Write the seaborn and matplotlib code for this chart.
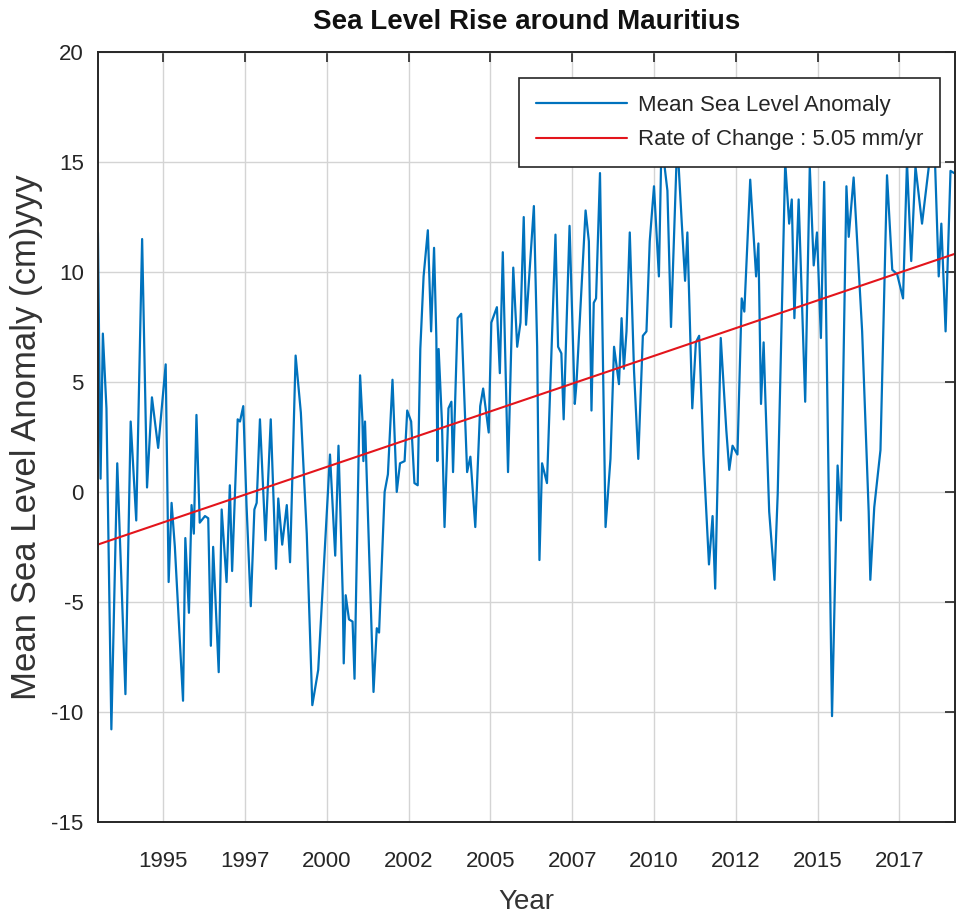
import numpy as np
import pandas as pd
import matplotlib
matplotlib.use('Agg')
import matplotlib.pyplot as plt
import seaborn as sns

# monthly-ish mean sea level anomaly (cm)
years = [1993.01, 1993.09, 1993.16, 1993.27, 1993.42, 1993.60, 1993.85, 1994.01, 1994.18, 1994.36,
         1994.51, 1994.66, 1994.85, 1995.08, 1995.17, 1995.26, 1995.36, 1995.61, 1995.68, 1995.79,
         1995.87, 1995.94, 1996.02, 1996.12, 1996.28, 1996.38, 1996.46, 1996.53, 1996.70, 1996.79,
         1996.94, 1997.04, 1997.11, 1997.28, 1997.35, 1997.45, 1997.55, 1997.68, 1997.79, 1997.86,
         1997.96, 1998.13, 1998.29, 1998.45, 1998.52, 1998.64, 1998.78, 1998.88, 1999.05, 1999.21,
         1999.39, 1999.56, 1999.74, 2000.10, 2000.26, 2000.36, 2000.49, 2000.52, 2000.58, 2000.68,
         2000.79, 2000.85, 2001.02, 2001.09, 2001.12, 2001.17, 2001.43, 2001.53, 2001.60, 2001.77,
         2001.87, 2002.01, 2002.14, 2002.24, 2002.38, 2002.46, 2002.58, 2002.68, 2002.78, 2002.86,
         2002.96, 2003.09, 2003.19, 2003.28, 2003.35, 2003.38, 2003.42, 2003.52, 2003.60, 2003.72,
         2003.81, 2003.86, 2004.00, 2004.11, 2004.29, 2004.39, 2004.54, 2004.69, 2004.78, 2004.95,
         2005.03, 2005.20, 2005.29, 2005.38, 2005.54, 2005.70, 2005.82, 2005.92, 2006.02, 2006.09,
         2006.33, 2006.43, 2006.50, 2006.58, 2006.73, 2006.99, 2007.07, 2007.17, 2007.24, 2007.42,
         2007.58, 2007.63, 2007.91, 2008.01, 2008.09, 2008.16, 2008.23, 2008.35, 2008.52, 2008.67,
         2008.78, 2008.85, 2008.93, 2009.01, 2009.08, 2009.16, 2009.26, 2009.39, 2009.52, 2009.66,
         2009.77, 2009.87, 2010.00, 2010.15, 2010.23, 2010.41, 2010.52, 2010.71, 2010.85, 2010.95,
         2011.02, 2011.17, 2011.28, 2011.38, 2011.51, 2011.68, 2011.79, 2011.87, 2012.04, 2012.21,
         2012.30, 2012.40, 2012.55, 2012.68, 2012.76, 2012.94, 2013.12, 2013.19, 2013.27, 2013.35,
         2013.40, 2013.52, 2013.68, 2013.78, 2014.01, 2014.13, 2014.21, 2014.29, 2014.42, 2014.62,
         2014.76, 2014.88, 2014.98, 2015.10, 2015.20, 2015.44, 2015.61, 2015.71, 2015.88, 2015.95,
         2016.10, 2016.36, 2016.56, 2016.61, 2016.73, 2016.92, 2017.12, 2017.28, 2017.43, 2017.61,
         2017.73, 2017.86, 2017.99, 2018.19, 2018.55, 2018.70, 2018.78, 2018.91, 2019.06, 2019.17]

msla = [11.8, 0.6, 7.2, 3.8, -10.8, 1.3, -9.2, 3.2, -1.3, 11.5,
        0.2, 4.3, 2.0, 5.8, -4.1, -0.5, -2.5, -9.5, -2.1, -5.5,
        -0.6, -1.9, 3.5, -1.4, -1.1, -1.2, -7.0, -2.5, -8.2, -0.8,
        -4.1, 0.3, -3.6, 3.3, 3.2, 3.9, -0.6, -5.2, -0.8, -0.5,
        3.3, -2.2, 3.3, -3.5, -0.3, -2.4, -0.6, -3.2, 6.2, 3.6,
        -1.9, -9.7, -8.1, 1.7, -2.9, 2.1, -4.7, -7.8, -4.7, -5.8,
        -5.9, -8.5, 5.3, 3.3, 1.4, 3.2, -9.1, -6.2, -6.4, 0.0,
        0.8, 5.1, 0.0, 1.3, 1.4, 3.7, 3.2, 0.4, 0.3, 6.5,
        9.8, 11.9, 7.3, 11.1, 7.0, 1.4, 6.5, 3.2, -1.6, 3.8,
        4.1, 0.9, 7.9, 8.1, 0.9, 1.6, -1.6, 3.9, 4.7, 2.7,
        7.7, 8.4, 5.4, 10.9, 0.9, 10.2, 6.6, 7.7, 12.5, 7.6,
        13.0, 6.6, -3.1, 1.3, 0.4, 11.7, 6.6, 6.3, 3.3, 12.1,
        4.0, 4.9, 12.8, 11.4, 3.7, 8.6, 8.8, 14.5, -1.6, 1.5,
        6.6, 5.8, 4.9, 7.9, 5.6, 7.3, 11.8, 5.5, 1.5, 7.1,
        7.3, 11.4, 13.9, 9.8, 16.0, 13.7, 7.5, 16.0, 12.2, 9.6,
        11.8, 3.8, 6.8, 7.1, 1.7, -3.3, -1.1, -4.4, 7.0, 2.8,
        1.0, 2.1, 1.7, 8.8, 8.2, 14.2, 9.8, 11.3, 4.0, 6.8,
        4.4, -0.9, -4.0, -0.1, 15.0, 12.2, 13.3, 7.9, 13.3, 4.1,
        14.8, 10.3, 11.8, 7.0, 14.1, -10.2, 1.2, -1.3, 13.9, 11.6,
        14.3, 7.3, -0.9, -4.0, -0.7, 1.9, 14.4, 10.1, 9.9, 8.8,
        15.0, 10.5, 14.8, 12.2, 16.7, 9.8, 12.2, 7.3, 14.6, 14.5]

# linear trend: 5.05 mm/yr, starting at -2.4 cm at the left edge
trend_rate = 0.505   # cm per year
trend_start = -2.4   # cm at 1993.0
trend_years = [1993.0, 2019.2]

x_ticks = [1995, 1997.5, 2000, 2002.5, 2005, 2007.5, 2010, 2012.5, 2015, 2017.5]
tick_labels = ['1995', '1997', '2000', '2002', '2005', '2007', '2010', '2012', '2015', '2017']

df = pd.DataFrame({'year': years, 'msla': msla})
trend = pd.DataFrame({'year': trend_years})
trend['msla'] = trend_start + trend_rate * (trend['year'] - trend_years[0])

sns.set_theme(style='whitegrid')
plt.rcParams['font.family'] = ['Liberation Sans', 'DejaVu Sans']
plt.rcParams['axes.unicode_minus'] = False

fig = plt.figure(figsize=(9.57, 9.15), dpi=100)
ax = fig.add_axes([0.102, 0.102, 0.896, 0.841])

sns.lineplot(data=df, x='year', y='msla', ax=ax, color='#0072BD', linewidth=1.6,
             label='Mean Sea Level Anomaly', estimator=None, sort=False)
sns.lineplot(data=trend, x='year', y='msla', ax=ax, color='#e3151c', linewidth=1.5,
             label='Rate of Change : 5.05 mm/yr', estimator=None)

ax.set_xlim(1993.0, 2019.2)
ax.set_ylim(-15, 20)
ax.set_xticks(x_ticks)
ax.set_xticklabels(tick_labels)
ax.set_yticks(range(-15, 21, 5))

ax.set_facecolor('white')
ax.grid(True, color='#d4d4d4', linewidth=1.0)
for sp in ax.spines.values():
    sp.set_color('#262626')
    sp.set_linewidth(1.4)
ax.tick_params(direction='in', length=7, width=1.2, color='#262626',
               top=True, right=True, labelsize=16, labelcolor='#262626')
ax.tick_params(axis='x', pad=21)
ax.tick_params(axis='y', pad=10)

ax.set_title('Sea Level Rise around Mauritius', fontsize=20, fontweight='bold', pad=17,
             color='#111111')
ax.set_xlabel('Year', fontsize=20, color='#333333', labelpad=12)
ax.set_ylabel('Mean Sea Level Anomaly (cm)yyy', fontsize=25, color='#333333', labelpad=6)

leg = ax.legend(loc='upper right', bbox_to_anchor=(0.9825, 0.966), borderaxespad=0,
                fontsize=16, frameon=True, fancybox=False, edgecolor='#262626',
                framealpha=1, handlelength=4.1, borderpad=0.75, labelspacing=0.6,
                handletextpad=0.5)
leg.get_frame().set_linewidth(1.2)

fig.savefig('out.png', dpi=100)
